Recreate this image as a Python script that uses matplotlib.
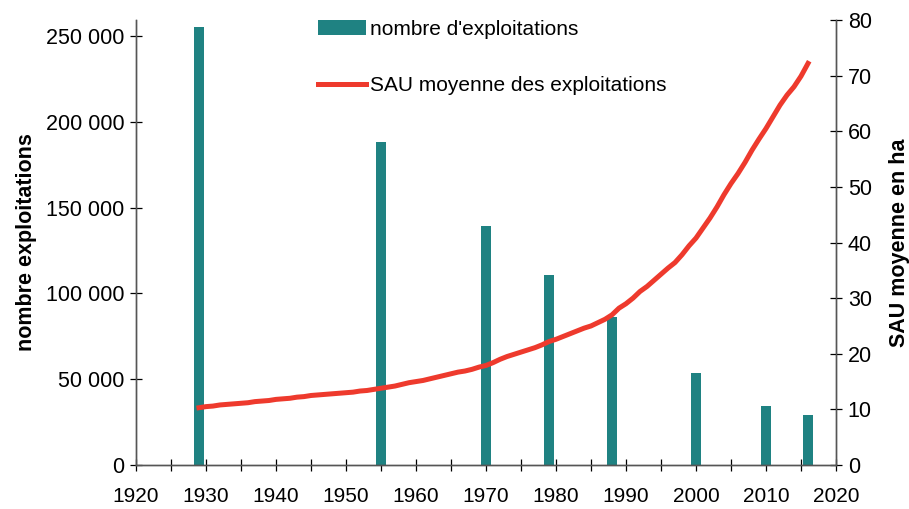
import matplotlib
matplotlib.use("Agg")
import matplotlib.pyplot as plt
import matplotlib.ticker as ticker
import numpy as np

# Census years and number of farms
bar_years = [1929, 1955, 1970, 1979, 1988, 2000, 2010, 2016]
farm_counts = [255000, 188000, 139000, 110700, 86400, 53600, 34400, 29100]

# Average farm area (ha), yearly
sau_years = list(range(1929, 2017))
sau_values = [
    10.3, 10.5, 10.6, 10.8, 10.9, 11.0, 11.1, 11.2, 11.4, 11.5,   # 1929-1938
    11.6, 11.8, 11.9, 12.0, 12.2, 12.3, 12.5, 12.6, 12.7, 12.8,   # 1939-1948
    12.9, 13.0, 13.1, 13.3, 13.4, 13.6, 13.8, 14.0, 14.2, 14.5,   # 1949-1958
    14.8, 15.0, 15.2, 15.5, 15.8, 16.1, 16.4, 16.7, 16.9, 17.2,   # 1959-1968
    17.6, 17.9, 18.4, 19.0, 19.5, 19.9, 20.3, 20.7, 21.1, 21.6,   # 1969-1978
    22.2, 22.6, 23.1, 23.6, 24.1, 24.6, 25.0, 25.6, 26.2, 27.0,   # 1979-1988
    28.2, 29.0, 30.0, 31.2, 32.1, 33.2, 34.3, 35.4, 36.4, 37.8,   # 1989-1998
    39.4, 40.8, 42.6, 44.4, 46.4, 48.6, 50.6, 52.4, 54.4, 56.6,   # 1999-2008
    58.6, 60.5, 62.6, 64.7, 66.5, 68.0, 69.9, 72.2,               # 2009-2016
]

BAR_COLOR = "#1f8282"
LINE_COLOR = "#ee3a2d"
AXIS_COLOR = "#555555"

plt.rcParams["font.family"] = ["Liberation Sans", "DejaVu Sans"]

fig = plt.figure(figsize=(9.09, 5.09), dpi=100)
ax = fig.add_axes([0.1496, 0.0864, 0.7701, 0.8743])
ax2 = ax.twinx()

bars = ax.bar(bar_years, farm_counts, width=1.3, color=BAR_COLOR,
              label="nombre d'exploitations", zorder=2)
line, = ax2.plot(sau_years, sau_values, color=LINE_COLOR, linewidth=3.6,
                 label="SAU moyenne des exploitations", zorder=3)

ax.set_xlim(1920, 2020)
ax.set_ylim(0, 259300)
ax2.set_ylim(0, 80)

ax.xaxis.set_major_locator(ticker.MultipleLocator(10))
ax.xaxis.set_minor_locator(ticker.MultipleLocator(5))
ax.yaxis.set_major_locator(ticker.MultipleLocator(50000))
ax.yaxis.set_major_formatter(ticker.FuncFormatter(lambda v, _: f"{int(v):,}".replace(",", " ")))
ax2.yaxis.set_major_locator(ticker.MultipleLocator(10))

for a in (ax, ax2):
    a.spines["top"].set_visible(False)
    for s in ("left", "right", "bottom"):
        a.spines[s].set_color(AXIS_COLOR)
        a.spines[s].set_linewidth(1.0)
    a.tick_params(axis="both", which="both", direction="inout", color="black",
                  width=0.9, labelsize=15.5)
    a.tick_params(axis="both", which="major", length=9)
    a.tick_params(axis="x", which="minor", length=9)
ax.tick_params(axis="x", labelsize=15, pad=11)
ax.tick_params(axis="y", pad=4)
ax2.tick_params(axis="y", pad=4)

ax.set_ylabel("nombre exploitations", fontsize=15.5, fontweight="bold", labelpad=6)
ax2.set_ylabel("SAU moyenne en ha", fontsize=15.5, fontweight="bold", labelpad=12)

ax2.set_zorder(ax.get_zorder() + 1)
ax2.patch.set_visible(False)

leg = fig.legend([bars, line], [bars.get_label(), line.get_label()],
                 loc="upper left", bbox_to_anchor=(0.329, 0.998), frameon=False,
                 fontsize=15, handlelength=2.3, handleheight=0.7,
                 labelspacing=1.8, handletextpad=0.2)

fig.savefig("out.png", dpi=100)
